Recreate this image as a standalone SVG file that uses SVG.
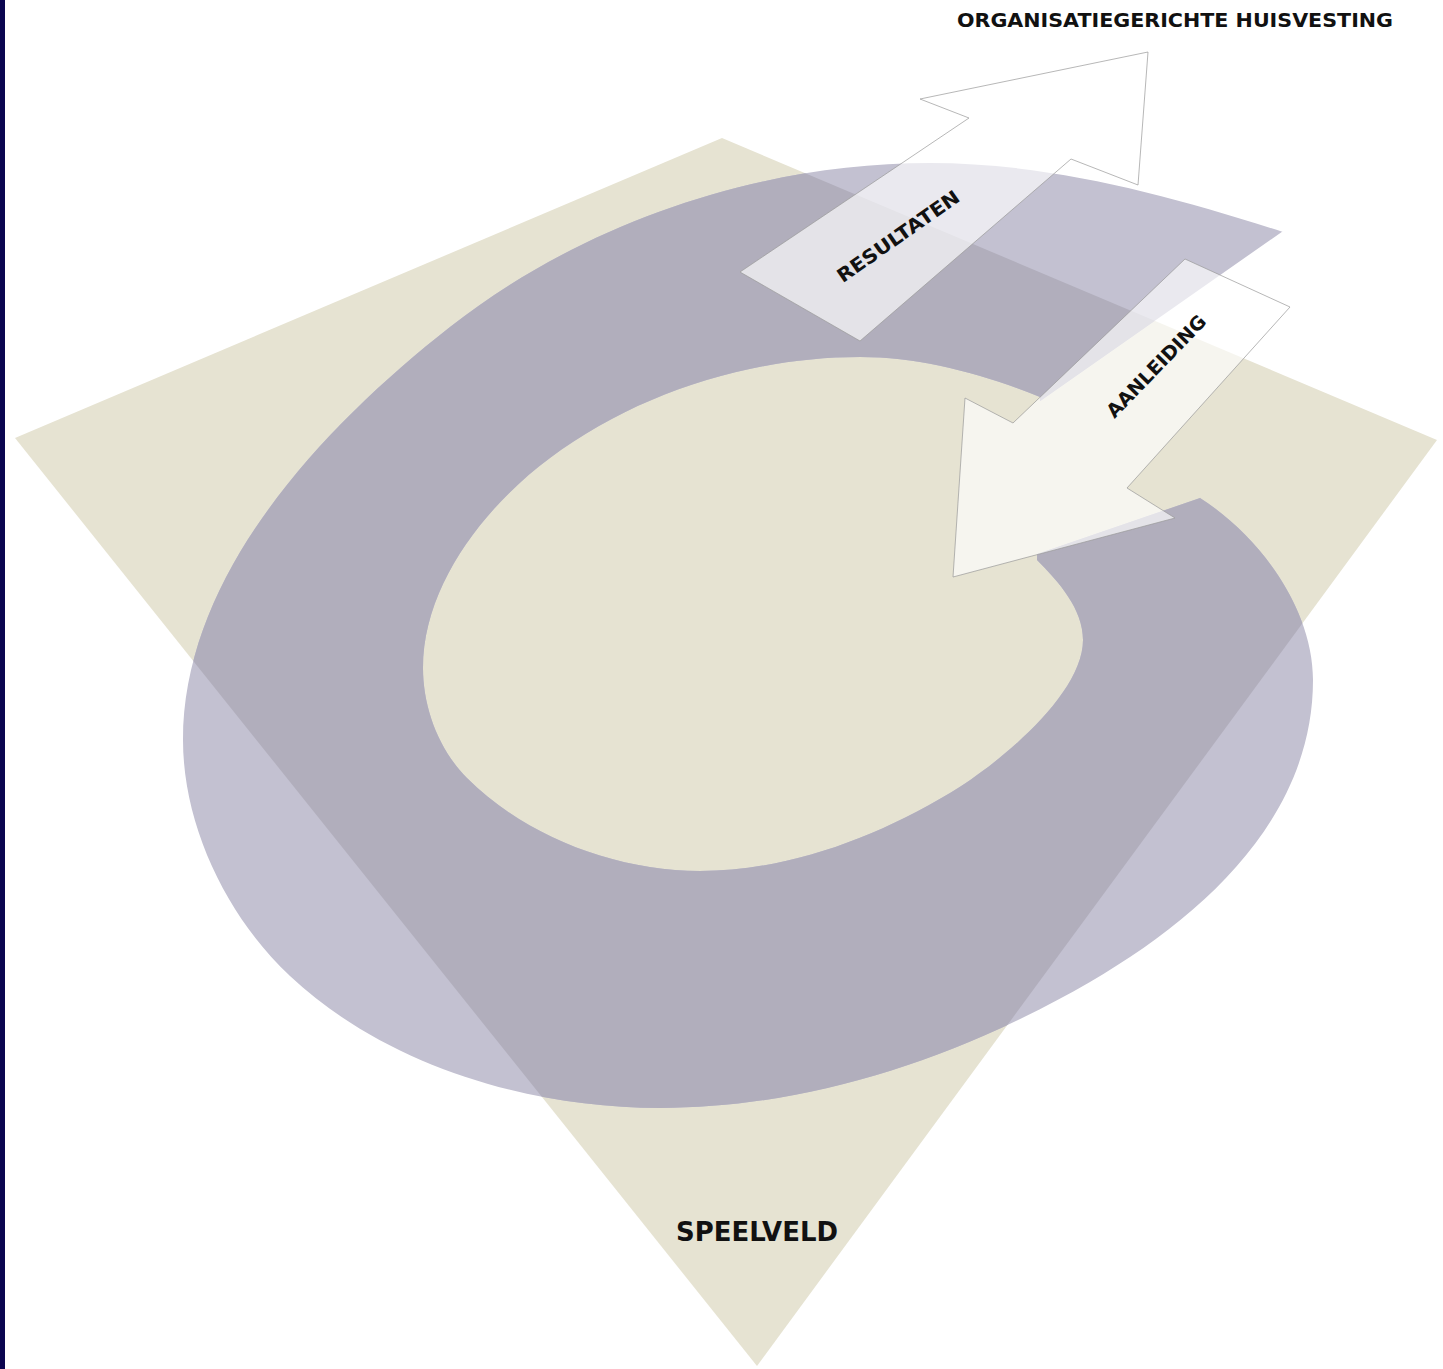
<svg xmlns="http://www.w3.org/2000/svg" width="1443" height="1369" viewBox="0 0 1443 1369">
<style>
.lbl{font-family:'DejaVu Sans','Verdana','Liberation Sans',sans-serif;font-weight:bold;fill:#111111}
.arrow{fill:#ffffff;fill-opacity:0.65;stroke:#9a9a9a;stroke-width:0.9;stroke-opacity:0.8}
</style>
<defs>
<path id="ringShape" fill-rule="evenodd" d="M1283,232 C1169,195 1050,163 930,163 C760,163 584,222 450,327 C320,429 183,576 183,740 C183,826 227,917 290,976 C386,1066 529,1108 660,1108 C810,1108 960,1057 1090,982 C1207,914 1313,815 1313,680 C1313,609 1260,536 1200,498 L1283,232 Z M1037,560 C1059,582 1083,609 1083,640 C1083,695 997,765 950,793 C875,838 787,871 700,871 C616,871 526,837 467,778 C439,750 423,708 423,668 C423,586 484,507 550,458 C637,393 751,357 860,357 C921,357 983,374 1040,397 Z"/>
<clipPath id="notWedge">
<path clip-rule="evenodd" d="M-10,-10 H1460 V1380 H-10 Z M615,699 L1500,79 L1500,395 Z"/>
</clipPath>
<clipPath id="diamondClip">
<polygon points="722,138 1437,440 757,1366 15,438"/>
</clipPath>
</defs>
<rect x="0" y="0" width="1443" height="1369" fill="#ffffff"/>
<rect x="0" y="0" width="5" height="1369" fill="#0b0650"/>
<g id="speelveld">
<polygon points="722,138 1437,440 757,1366 15,438" fill="#e6e3d2"/>
</g>
<g id="cycle" clip-path="url(#notWedge)">
<use href="#ringShape" fill="#c3c1d1"/>
<g clip-path="url(#diamondClip)">
<use href="#ringShape" fill="#b1aebc"/>
</g>
</g>
<g id="connectors">
<g id="arrow-resultaten">
<polygon class="arrow" points="740,272 969,118 920,99 1148,52 1138,185 1071,159 860,341"/>
<text class="lbl" font-size="19" text-anchor="middle" x="0" y="7" textLength="145" lengthAdjust="spacingAndGlyphs" transform="translate(898,236) rotate(-35)">RESULTATEN</text>
</g>
<g id="arrow-aanleiding">
<polygon class="arrow" points="1185,259 1290,307 1127,488 1175,518 953,577 965,398 1013,423"/>
<text class="lbl" font-size="19" text-anchor="middle" x="0" y="7" textLength="134" lengthAdjust="spacingAndGlyphs" transform="translate(1156,366) rotate(-46)">AANLEIDING</text>
</g>
</g>
<g id="label-speelveld">
<text class="lbl" font-size="26" text-anchor="middle" x="757" y="1241" textLength="162" lengthAdjust="spacingAndGlyphs">SPEELVELD</text>
</g>
<g id="label-huisvesting">
<text class="lbl" font-size="20" text-anchor="middle" x="1175" y="27" textLength="436" lengthAdjust="spacingAndGlyphs">ORGANISATIEGERICHTE HUISVESTING</text>
</g>
</svg>
